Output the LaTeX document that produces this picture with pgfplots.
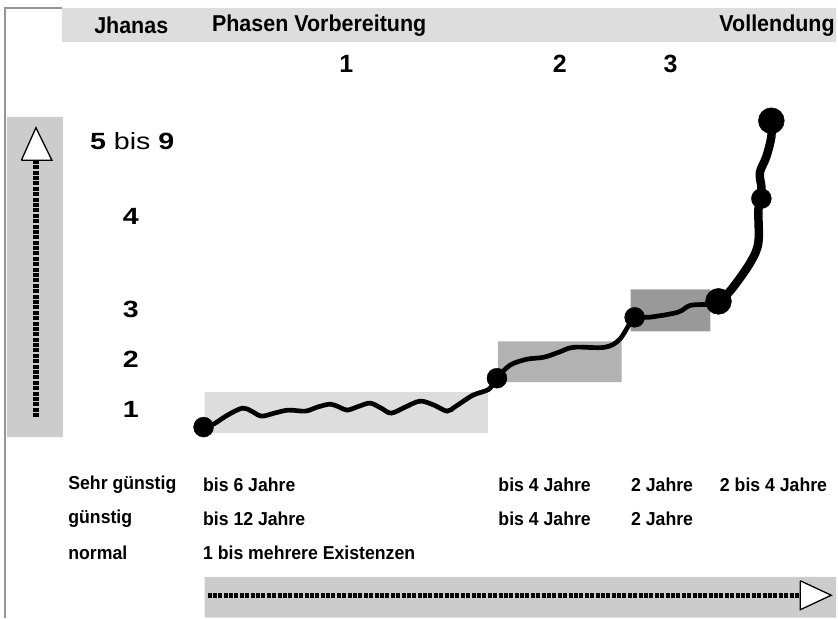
\documentclass[border=0pt]{standalone}
\usepackage{pgfplots}
\pgfplotsset{compat=1.18}
\usepackage{graphicx}
\usepackage{fontspec}
\setmainfont{Liberation Sans}
\definecolor{bandA}{RGB}{221,221,221}
\definecolor{bandB}{RGB}{204,204,204}
\definecolor{boxA}{RGB}{221,221,221}
\definecolor{boxB}{RGB}{178,178,178}
\definecolor{boxC}{RGB}{153,153,153}
\definecolor{frame}{RGB}{150,150,150}
\newcommand{\hd}[1]{\scalebox{1}[1.07]{\fontsize{21.5}{25}\selectfont\bfseries #1}}
\newcommand{\num}[1]{\fontsize{25}{28}\selectfont\bfseries #1}
\newcommand{\lv}[1]{\scalebox{1.22}[1]{\fontsize{23.5}{27}\selectfont #1}}
\newcommand{\bt}[1]{\scalebox{1}[1.06]{\fontsize{17.7}{21}\selectfont\bfseries #1}}
\begin{document}
\begin{tikzpicture}
\begin{axis}[scale only axis, width=838pt, height=619pt,
  xmin=0, xmax=838, ymin=0, ymax=619, y dir=reverse,
  hide axis, clip=false]
% bounding box
\addplot[draw=none] coordinates {(0,0) (838,619)};
% frame line
\addplot[frame, line width=1.2pt] coordinates {(5,619) (5,8) (62,8)};
% bands
\addplot[fill=bandA, draw=none] coordinates {(62,8) (838,8) (838,42) (62,42) (62,8)};
\addplot[fill=bandB, draw=none] coordinates {(7,117) (63,117) (63,438) (7,438) (7,117)};
\addplot[fill=bandB, draw=none] coordinates {(205,578) (838,578) (838,619) (205,619) (205,578)};
% phase boxes
\addplot[fill=boxA, draw=none] coordinates {(205,393) (489,393) (489,434) (205,434) (205,393)};
\addplot[fill=boxB, draw=none] coordinates {(499,342) (623,342) (623,383) (499,383) (499,342)};
\addplot[fill=boxC, draw=none] coordinates {(632,290) (712,290) (712,332) (632,332) (632,290)};
% arrows
\addplot[black, line width=5.5pt, dash pattern=on 4pt off 1.4pt] coordinates {(36,418) (36,161)};
\addplot[fill=white, draw=black, line width=1.3pt] coordinates {(21.5,160.5) (52,160.5) (36,128) (21.5,160.5)};
\addplot[black, line width=5.5pt, dash pattern=on 4pt off 1.4pt] coordinates {(208,597) (802,597)};
\addplot[fill=white, draw=black, line width=1.3pt] coordinates {(802,582) (802,611) (833,596.5) (802,582)};
% curve
\addplot[black, line width=4.7pt, smooth, tension=0.55] coordinates {
(204,428) (214,425) (228,416) (243,409) (252,412) (262,417) (275,414) (289,411)
(306,412) (318,408) (331,405) (340,408) (348,411) (360,407) (371,404) (382,409)
(392,414) (406,408) (421,402) (435,406) (448,412) (457,407) (474,396) (490,390)
(498,379) (511,366) (528,360) (545,358) (560,353) (575,348) (606,348) (621,340)
(636,318) (650,318) (679,313) (692,306) (713,305) (720,303)};
\addplot[black, line width=8.5pt, smooth, tension=0.55] coordinates {
(720,303) (733,290) (752,263) (760,243) (760,210) (763,199) (763,187)
(761.5,173) (768,157) (773,137) (773,122)};
\addplot[only marks, mark=*, mark size=10pt, black] coordinates {(204,428) (498,379) (636,318) (763,199)};
\addplot[only marks, mark=*, mark size=13pt, black] coordinates {(720,302) (773,121)};
% header texts
\node at (axis cs:131.5,25.5) {\hd{Jhanas}};
\node[anchor=west] at (axis cs:209,25.5) {\hd{Phasen Vorbereitung}};
\node[anchor=east] at (axis cs:840,25.5) {\hd{Vollendung}};
\node at (axis cs:347,64) {\num{1}};
\node at (axis cs:561,64) {\num{2}};
\node at (axis cs:672,64) {\num{3}};
% level labels
\node at (axis cs:132.5,141) {\lv{\textbf{5} bis \textbf{9}}};
\node at (axis cs:131,217) {\lv{\textbf{4}}};
\node at (axis cs:131,310.5) {\lv{\textbf{3}}};
\node at (axis cs:131,360.5) {\lv{\textbf{2}}};
\node at (axis cs:131,410) {\lv{\textbf{1}}};
% bottom table
\node[anchor=west] at (axis cs:65,486) {\bt{Sehr günstig}};
\node[anchor=west] at (axis cs:65,520) {\bt{günstig}};
\node[anchor=west] at (axis cs:65,554) {\bt{normal}};
\node[anchor=west] at (axis cs:200,486) {\bt{bis 6 Jahre}};
\node[anchor=west] at (axis cs:200,520) {\bt{bis 12 Jahre}};
\node[anchor=west] at (axis cs:200,554) {\bt{1 bis mehrere Existenzen}};
\node[anchor=west] at (axis cs:496,486) {\bt{bis 4 Jahre}};
\node[anchor=west] at (axis cs:496,520) {\bt{bis 4 Jahre}};
\node[anchor=west] at (axis cs:629,486) {\bt{2 Jahre}};
\node[anchor=west] at (axis cs:629,520) {\bt{2 Jahre}};
\node[anchor=west] at (axis cs:718,486) {\bt{2 bis 4 Jahre}};
\end{axis}
\end{tikzpicture}
\end{document}
